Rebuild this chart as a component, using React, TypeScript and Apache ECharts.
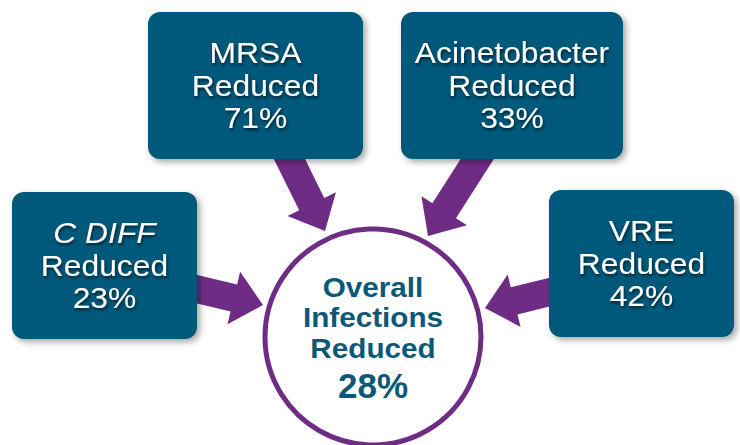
import React, { useEffect, useRef } from "react";
import * as echarts from "echarts";

// Data
const categories = ["MRSA", "Acinetobacter", "C DIFF", "VRE"];
const italicName = [false, false, true, false];
const reductionPct = [71, 33, 23, 42];
const overallLabel = ["Overall", "Infections", "Reduced"];
const overallPct = 28;

// Layout (positions / sizes)
const boxes = [
  { x: 148, y: 12, w: 215, h: 147 },
  { x: 401, y: 12, w: 222, h: 147 },
  { x: 12, y: 192, w: 185, h: 147 },
  { x: 549, y: 190, w: 185, h: 147 },
];
const arrowFrom = [
  [285, 150],
  [483, 150],
  [188, 287],
  [558, 290],
];
const arrowTo = [
  [325, 231],
  [428, 236],
  [263, 305],
  [485, 308],
];
const circle = { cx: 373, cy: 337, r: 108 };

const BOX = "#05587a";
const PURPLE = "#6f2c85";
const TEAL = "#0b5878";
const FONT = '"Liberation Sans", Arial, sans-serif';

function arrowPoints(s: number[], t: number[], sw: number, hw: number, hl: number) {
  const dx = t[0] - s[0];
  const dy = t[1] - s[1];
  const len = Math.hypot(dx, dy);
  const ux = dx / len, uy = dy / len;
  const nx = -uy, ny = ux;
  const bx = t[0] - ux * hl, by = t[1] - uy * hl;
  return [
    [s[0] + nx * sw / 2, s[1] + ny * sw / 2],
    [bx + nx * sw / 2, by + ny * sw / 2],
    [bx + nx * hw / 2, by + ny * hw / 2],
    [t[0], t[1]],
    [bx - nx * hw / 2, by - ny * hw / 2],
    [bx - nx * sw / 2, by - ny * sw / 2],
    [s[0] - nx * sw / 2, s[1] - ny * sw / 2],
  ];
}

export default function App() {
  const ref = useRef<HTMLDivElement>(null);
  useEffect(() => {
    document.body.style.margin = "0";
    const chart = echarts.init(ref.current!, undefined, { renderer: "svg" });
    const elements: any[] = [];

    // circle
    elements.push({
      type: "circle",
      shape: { cx: circle.cx, cy: circle.cy, r: circle.r },
      style: { fill: "#ffffff", stroke: PURPLE, lineWidth: 5 },
      z: 1,
    });

    // arrows
    categories.forEach((_, i) => {
      elements.push({
        type: "polygon",
        shape: { points: arrowPoints(arrowFrom[i], arrowTo[i], 28, 54, 30) },
        style: { fill: PURPLE },
        z: 2,
      });
    });

    // boxes
    categories.forEach((name, i) => {
      const b = boxes[i];
      elements.push({
        type: "rect",
        shape: { x: b.x, y: b.y, width: b.w, height: b.h, r: 12 },
        style: {
          fill: BOX,
          shadowBlur: 6,
          shadowOffsetX: 3,
          shadowOffsetY: 3,
          shadowColor: "rgba(0,0,0,0.35)",
        },
        z: 3,
      });
      const lines = [name, "Reduced", reductionPct[i] + "%"];
      const cy = b.y + b.h / 2;
      lines.forEach((ln, j) => {
        elements.push({
          type: "text",
          x: b.x + b.w / 2,
          y: cy + (j - 1) * 32.5,
          scaleX: 1.06,
          style: {
            text: ln,
            fill: "#ffffff",
            font: `${j === 0 && italicName[i] ? "italic " : ""}30px ${FONT}`,
            align: "center",
            verticalAlign: "middle",
            textShadowColor: "rgba(0,0,0,0.65)",
            textShadowBlur: 3,
            textShadowOffsetX: 1,
            textShadowOffsetY: 2,
          },
          z: 4,
        });
      });
    });

    // circle text
    const ys = [287, 317, 348];
    overallLabel.forEach((ln, j) => {
      elements.push({
        type: "text",
        x: circle.cx,
        y: ys[j],
        scaleX: 1.06,
        style: {
          text: ln,
          fill: TEAL,
          font: `bold 28px ${FONT}`,
          align: "center",
          verticalAlign: "middle",
        },
        z: 4,
      });
    });
    elements.push({
      type: "text",
      x: circle.cx,
      y: 385,
      style: {
        text: overallPct + "%",
        fill: TEAL,
        font: `bold 35px ${FONT}`,
        align: "center",
        verticalAlign: "middle",
      },
      z: 4,
    });

    chart.setOption({
      animation: false,
      backgroundColor: "#ffffff",
      graphic: { elements },
    });
    return () => chart.dispose();
  }, []);
  return <div ref={ref} style={{ width: 740, height: 445 }} />;
}
